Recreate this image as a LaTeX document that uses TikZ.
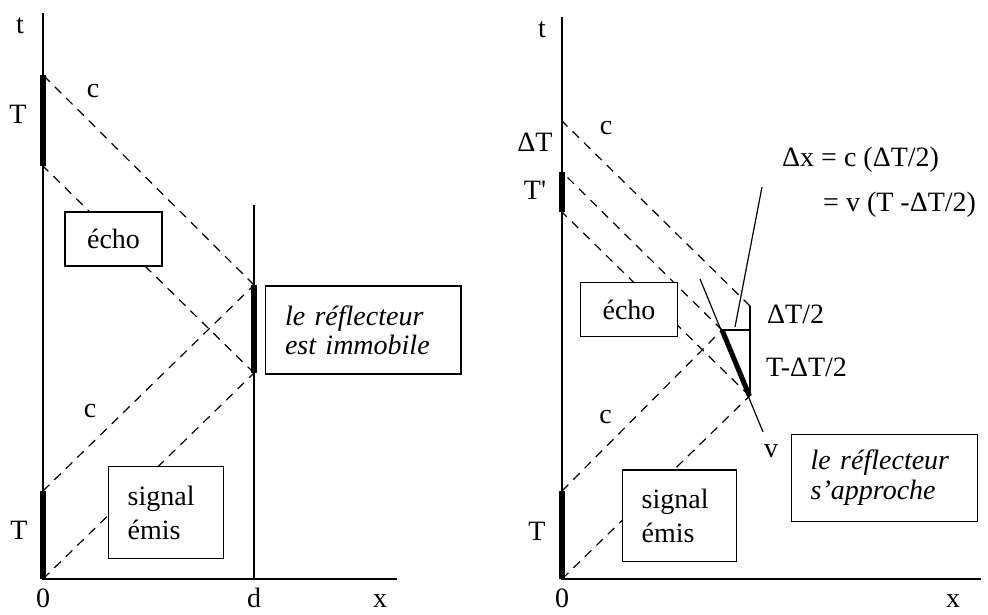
\documentclass[tikz,border=0pt]{standalone}
\usepackage{fontspec}
\setmainfont{Liberation Serif}
\begin{document}
\begin{tikzpicture}[x=1pt,y=-1pt,
  font=\fontsize{28}{29}\selectfont,
  axis/.style={line width=1.2pt},
  ray/.style={line width=1.2pt, dash pattern=on 9pt off 7pt},
  heavy/.style={line width=5.5pt},
  box/.style={draw, fill=white, line width=1.2pt, inner ysep=0pt},
  lbl/.style={anchor=base, inner sep=0pt},
  lblw/.style={anchor=base west, inner sep=0pt}]
\useasboundingbox (0,0) rectangle (988,614);
% ---------------- left panel ----------------
\coordinate (O1) at (43,579);
\coordinate (tT1) at (43,13);
\coordinate (xE1) at (397,579);
\coordinate (R1b) at (254,579);
\coordinate (R1t) at (254,205);
\coordinate (A1) at (43,75);
\coordinate (B1) at (43,166);
\coordinate (C1) at (43,491);
\coordinate (P1) at (254,285);
\coordinate (Q1) at (254,373);
\draw[axis] (tT1) -- (O1) -- (xE1);
\draw[axis] (R1t) -- (R1b);
\draw[ray] (O1) -- (Q1);
\draw[ray] (C1) -- (P1);
\draw[ray] (P1) -- (A1);
\draw[ray] (Q1) -- (B1);
\draw[heavy] (A1) -- (B1);
\draw[heavy] (C1) -- (O1);
\draw[heavy] (P1) -- (Q1);
\node[box, minimum width=97pt, minimum height=54pt] (echo1) at (113.5,239) {écho};
\node[box, minimum width=195.3pt, minimum height=88pt, inner xsep=19.3pt, text width=156.7pt, align=left,
      font=\fontsize{28}{29}\selectfont\itshape] (refl1) at (363.4,330) {le réflecteur\\est immobile};
\node[box, minimum width=115pt, minimum height=91.6pt, inner xsep=19.4pt, text width=76.2pt, align=left,
      font=\fontsize{28}{34}\selectfont] (sig1) at (165.8,512.5) {signal\\émis};
\node[lbl] (t1) at (20,33) {t};
\node[lbl] (T1a) at (18,123) {T};
\node[lbl] (T1b) at (19,539) {T};
\node[lbl] (c1a) at (93,97) {c};
\node[lbl] (c1b) at (90,417) {c};
\node[lbl] (z1) at (43,607) {0};
\node[lbl] (d1) at (254,607) {d};
\node[lbl] (x1) at (380,607) {x};
% ---------------- right panel ----------------
\coordinate (O2) at (562,579);
\coordinate (tT2) at (562,17);
\coordinate (xE2) at (981,579);
\coordinate (A2) at (562,172);
\coordinate (B2) at (562,212);
\coordinate (C2) at (562,491);
\coordinate (D2) at (562,121);
\coordinate (P2) at (722,330);
\coordinate (Q2) at (749.5,396);
\coordinate (E2) at (750,306);
\coordinate (F2) at (750,396);
\coordinate (H2) at (750,330);
\coordinate (V0) at (700,279);
\coordinate (V1) at (763,432);
\coordinate (K0) at (762,187);
\coordinate (K1) at (735,327);
\draw[axis] (tT2) -- (O2) -- (xE2);
\draw[ray] (O2) -- (Q2);
\draw[ray] (C2) -- (P2);
\draw[ray] (Q2) -- (B2);
\draw[ray] (P2) -- (A2);
\draw[ray] (E2) -- (D2);
\draw[axis] (V0) -- (V1);
\draw[axis] (E2) -- (F2);
\draw[axis] (P2) -- (H2);
\draw[axis] (K0) -- (K1);
\draw[heavy] (A2) -- (B2);
\draw[heavy] (C2) -- (O2);
\draw[line width=5pt] (P2) -- (Q2);
\node[box, minimum width=96.6pt, minimum height=54.4pt] (echo2) at (629,309.5) {écho};
\node[box, minimum width=114.4pt, minimum height=91.7pt, inner xsep=19.4pt, text width=75.6pt, align=left,
      font=\fontsize{28}{34}\selectfont] (sig2) at (679.5,515.8) {signal\\émis};
\node[box, minimum width=186pt, minimum height=87.4pt, inner xsep=19pt, text width=148pt, align=left,
      font=\fontsize{28}{30}\selectfont\itshape] (refl2) at (884.7,478) {le réflecteur\\s’approche};
\node[lbl] (t2) at (542,37) {t};
\node[lbl] (dT2) at (535,151) {ΔT};
\node[lbl] (Tp2) at (535,199) {T\textquotesingle};
\node[lbl] (T2) at (537,540) {T};
\node[lbl] (c2a) at (606,134) {c};
\node[lbl] (c2b) at (605.5,423) {c};
\node[lbl] (v2) at (771,457) {v};
\node[lbl] (z2) at (562,607) {0};
\node[lbl] (x2) at (953,607) {x};
\node[lblw] (half2) at (767,323) {ΔT/2};
\node[lblw] (rest2) at (766,376) {T-ΔT/2};
\node[lblw] (eq1) at (782,166) {Δx = c (ΔT/2)};
\node[lblw] (eq2) at (823,211) {= v (T -ΔT/2)};
\end{tikzpicture}
\end{document}
